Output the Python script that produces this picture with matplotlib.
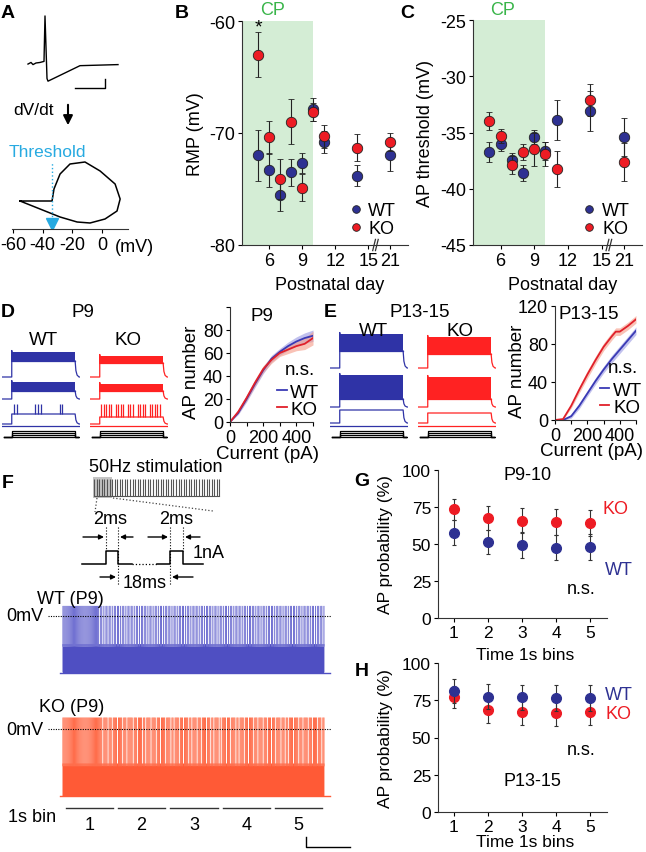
import numpy as np
import matplotlib.pyplot as plt
from matplotlib.lines import Line2D
from matplotlib.transforms import blended_transform_factory

plt.rcParams['font.family'] = ['Liberation Sans', 'DejaVu Sans']
plt.rcParams['font.size'] = 12
plt.rcParams['axes.unicode_minus'] = False
plt.rcParams['axes.linewidth'] = 0.8
plt.rcParams['axes.edgecolor'] = '#333333'
plt.rcParams['xtick.major.width'] = 0.8
plt.rcParams['ytick.major.width'] = 0.8
plt.rcParams['xtick.major.size'] = 3
plt.rcParams['ytick.major.size'] = 3
plt.rcParams['xtick.major.pad'] = 2
plt.rcParams['ytick.major.pad'] = 2

WT_C = '#2e3192'
KO_C = '#ed1c24'
CYAN = '#27aae1'
GREEN = '#39b54a'

# ---------------- data ----------------
# A: example action potential and phase plot
ap_t = [0, 3, 5, 8, 12, 16, 17, 19, 20, 52, 90]
ap_v = [-55, -52, -56, -53, -52, -50, 35, -82, -87, -58, -56]
phase_v = [-55.3, -33.7, -32.4, -28.3, -21.6, -11.5, -1.3, 8.8, 12.2, 10.1,
           2.0, -8.1, -16.8, -28.3, -41.8, -55.3]
phase_dvdt = [0, 0, 60, 135, 185, 195, 150, 85, 10, -50, -90, -110, -105, -80, -40, 0]
threshold_mv = -33.7

# B, C: postnatal development
days = [5, 6, 7, 8, 9, 10, 11, 14, 21]
day_ticks = [6, 9, 12, 15, 21]
rmp_wt = [-72.0, -73.3, -75.5, -73.5, -72.7, -67.9, -70.8, -73.8, -72.0]
rmp_wt_err = [2.3, 1.5, 1.5, 1.2, 0.9, 1.0, 1.0, 0.9, 1.4]
rmp_ko = [-63.0, -70.4, -74.1, -69.0, -74.9, -68.1, -70.3, -71.3, -70.8]
rmp_ko_err = [2.0, 1.5, 1.8, 2.0, 1.2, 0.8, 1.0, 1.2, 0.8]
thr_wt = [-36.7, -36.0, -37.4, -38.6, -35.4, -36.6, -33.9, -33.1, -35.4]
thr_wt_err = [0.9, 0.6, 0.6, 0.7, 0.6, 0.8, 1.8, 1.8, 1.7]
thr_ko = [-34.0, -35.3, -37.9, -36.7, -36.5, -36.9, -38.2, -32.1, -37.6]
thr_ko_err = [0.8, 0.6, 0.8, 0.7, 1.5, 1.1, 1.6, 1.4, 1.7]

# D, E: example sweeps (stacked trace units) and F-I curves
d_wt_rest, d_wt_plat, d_wt_peak = [128, 84, 34], [160, 100, 54], [178, 118, 74]
d_ko_rest, d_ko_plat, d_ko_peak = [128, 84, 34], [156, 100, 48], [170, 114, 74]
e_wt_rest, e_wt_plat, e_wt_peak = [146, 68, 36], [180, 84, 62], [214, 132, 62]
e_ko_rest, e_ko_plat, e_ko_peak = [146, 68, 36], [174, 84, 56], [208, 128, 56]
d_wt_spikes = [120, 150, 340, 370, 400, 590, 620]
d_ko_spikes = [115, 140, 165, 190, 215, 265, 290, 315, 340, 390, 415, 440,
               490, 515, 540, 565, 615, 640, 665, 690, 720]
stim_rest, stim_steps = 8, [12, 16, 20]

cur_d = [0, 50, 100, 150, 200, 250, 300, 350, 400, 450, 500]
p9_wt = [0, 8, 20, 33, 45, 55, 61, 66, 70, 73, 75]
p9_wt_sem = [0, 1.5, 2.5, 3, 3, 3, 3, 3.5, 4, 4.5, 5]
p9_ko = [0, 9, 21, 34, 46, 54, 60, 63, 66, 68, 73]
p9_ko_sem = [0, 1.5, 2.5, 3, 3, 3, 3, 3.5, 4, 5, 6]
cur_e = [0, 50, 100, 150, 200, 250, 300, 350, 375, 400, 450, 500]
p13_wt = [0, 0, 4, 15, 28, 41, 53, 64, 69, 74, 84, 94]
p13_wt_sem = [0, 0.5, 2, 3, 3, 3.5, 3.5, 4, 4, 4, 4, 4]
p13_ko = [0, 1, 15, 32, 48, 63, 77, 88, 93, 93, 99, 106]
p13_ko_sem = [0, 0.5, 2.5, 3.5, 4, 4, 4, 4, 4, 4, 4, 4]

# F: 50 Hz train, 1 = pulse evoked a full spike
stim_rate = 50
wt_ap = ("11111111111111111111111111111111111011010110110101"
         "10110101101011011010110101101101011010110101101011"
         "01101011010110110101101011011010110101101101011010"
         "11010110101101011011010110101101101011010110101101"
         "10101101101011010110110101101011011010110101101101")
ko_ap = ("11111111111111111111111111111111111111011110111011"
         "11011110111011111011101111011011110111101110111101"
         "11101101111011101111011011110111011110111011011110"
         "10111101110111101101111011101111011101111011101110"
         "11101111011101101111011110111011110111011110111011")

# G, H: AP probability per 1 s bin
bins = [1, 2, 3, 4, 5]
g_wt = [57.5, 51.5, 49.3, 47.6, 48.0]
g_wt_err = [8.5, 8.0, 9.0, 8.5, 8.5]
g_ko = [73.5, 67.5, 65.6, 64.8, 64.2]
g_ko_err = [7.0, 8.0, 8.5, 9.0, 9.0]
h_wt = [81.0, 77.5, 77.0, 76.5, 76.5]
h_wt_err = [8.0, 8.5, 8.5, 8.5, 8.5]
h_ko = [77.0, 68.5, 67.0, 66.5, 67.0]
h_ko_err = [7.5, 8.5, 8.5, 8.5, 8.5]

# ---------------- figure ----------------
W, H = 646, 853
fig = plt.figure(figsize=(W / 100, H / 100), dpi=100)


def px_axes(x0, y0, x1, y1):
    return fig.add_axes([x0 / W, 1 - y1 / H, (x1 - x0) / W, (y1 - y0) / H])


def despine(ax):
    ax.spines['top'].set_visible(False)
    ax.spines['right'].set_visible(False)


ov = fig.add_axes([0, 0, 1, 1], zorder=10)
ov.set_xlim(0, W)
ov.set_ylim(H, 0)
ov.axis('off')

# panel letters
for lab, x, y in [('A', 8, 13), ('B', 182, 13), ('C', 407, 13), ('D', 8, 312),
                  ('E', 330, 312), ('F', 8, 483), ('G', 362, 482), ('H', 362, 672)]:
    ov.text(x, y, lab, fontsize=14, fontweight='bold', ha='center', va='center')

# ---- A
axa = px_axes(20, 10, 130, 95)
axa.plot(ap_t, ap_v, color='k', lw=1)
axa.plot([47, 77, 77], [-100, -100, -83], color='k', lw=1)
axa.set_xlim(-8, 102)
axa.set_ylim(-111, 48)
axa.axis('off')
ov.text(33, 110, 'dV/dt', fontsize=12.5, ha='center', va='center')
ov.annotate('', xy=(68, 129), xytext=(68, 103),
            arrowprops=dict(arrowstyle='-|>', color='k', lw=1.5, mutation_scale=14))
ov.text(47, 152, 'Threshold', color=CYAN, fontsize=12.5, ha='center', va='center')

axp = px_axes(12, 150, 128, 230)
axp.plot(phase_v, phase_dvdt, color='k', lw=1.1)
axp.plot([threshold_mv, threshold_mv], [-115, 195], ls=':', color=CYAN, lw=1)
axp.plot([threshold_mv], [-113], marker='v', ms=8, color=CYAN)
axp.set_xlim(-60.7, 17.5)
axp.set_ylim(-140, 260)
for s in ['top', 'right', 'left']:
    axp.spines[s].set_visible(False)
axp.set_yticks([])
axp.set_xticks([-60, -40, -20, 0])
axp.tick_params(axis='x', labelsize=13)
ov.text(134, 247, '(mV)', fontsize=13, ha='center', va='center')


# ---- B, C
def day_pos(d):
    # days after 15 sit just past the axis break
    return d if d <= 15 else d - 4


def dev_panel(box, wt, wt_err, ko, ko_err, ylim, yticks, ylabel):
    ax = px_axes(*box)
    pos = [day_pos(d) for d in days]
    ax.axvspan(3.55, 10, color='#d4edd5', lw=0, zorder=0)
    kw = dict(fmt='o', ms=7.5, mec='#222222', mew=0.6, ecolor='#222222',
              elinewidth=0.8, capsize=2, capthick=0.8)
    ax.errorbar(pos, wt, yerr=wt_err, mfc=WT_C, zorder=3, **kw)
    ax.errorbar(pos, ko, yerr=ko_err, mfc=KO_C, zorder=4, **kw)
    ax.set_xlim(3.55, 18.6)
    ax.set_ylim(*ylim)
    ax.set_yticks(yticks)
    ax.set_xticks([day_pos(d) for d in day_ticks])
    ax.set_xticklabels([str(d) for d in day_ticks])
    ax.tick_params(labelsize=13)
    despine(ax)
    tr = blended_transform_factory(ax.transData, ax.transAxes)
    for x0 in [15.4, 15.65]:
        ax.plot([x0, x0 + 0.25], [-0.025, 0.025], color='#333333', lw=0.9,
                transform=tr, clip_on=False)
    ax.set_ylabel(ylabel, fontsize=13, va='center')
    ax.yaxis.set_label_coords(-0.28, 0.5)
    ax.set_xlabel('Postnatal day', fontsize=13, va='center')
    ax.xaxis.set_label_coords(0.53, -0.175)
    handles = [Line2D([], [], ls='', marker='o', ms=5.5, mfc=c, mec='#222222',
                      mew=0.6, label=l) for c, l in [(WT_C, 'WT'), (KO_C, 'KO')]]
    ax.legend(handles=handles, loc='lower right', bbox_to_anchor=(0.95, 0.02),
              frameon=False, fontsize=13, handlelength=0.8, handletextpad=0.3,
              labelspacing=0.05, borderaxespad=0, borderpad=0.2)
    return ax


axb = dev_panel((242, 22, 408, 246), rmp_wt, rmp_wt_err, rmp_ko, rmp_ko_err,
                (-80, -60), [-80, -70, -60], 'RMP (mV)')
axb.text(5, -60.5, '*', fontsize=14, ha='center', va='center')
axc = dev_panel((473, 21, 642, 246), thr_wt, thr_wt_err, thr_ko, thr_ko_err,
                (-45, -25), [-45, -40, -35, -30, -25], 'AP threshold (mV)')
ov.text(273, 10, 'CP', color=GREEN, fontsize=13, ha='center', va='center')
ov.text(503, 10, 'CP', color=GREEN, fontsize=13, ha='center', va='center')


# ---- D, E example sweeps
def sweep_block(box, rests, plats, peaks, color, spikes=None, hyp=None):
    ax = px_axes(*box)
    on, off, end = 100, 750, 800
    decay = [1, 0.4, 0.12, 0]
    for i, (r, p, k) in enumerate(zip(rests, plats, peaks)):
        tail_t = [off, off + 8, off + 20, off + 40, end]
        tail_v = [r + (p - r) * f for f in decay] + [r]
        if i < 2:
            ax.fill_between([on, off], p, k, color=color, lw=0)
            ax.plot([0, on, on, on + 6], [r, r, k + 3, p], color=color, lw=0.9)
            ax.plot([on, off], [p, p], color=color, lw=0.9)
            ax.plot(tail_t, tail_v, color=color, lw=0.9)
        else:
            ax.plot([0, on, on, off] + tail_t[1:], [r, r, p, p] + tail_v[1:],
                    color=color, lw=0.9)
            if spikes and k > p:
                ax.vlines(spikes, p, k, color=color, lw=0.9)
    if hyp is not None:
        ax.plot([0, end], [hyp, hyp], color=color, lw=0.9)
    ax.plot([20, end], [stim_rest, stim_rest], color='k', lw=0.9)
    for s in stim_steps:
        ax.plot([20, on, on, off, off, end - 20], [stim_rest, stim_rest, s, s,
                                                   stim_rest, stim_rest], color='k', lw=0.9)
    ax.set_xlim(0, 800)
    ax.set_ylim(0, 244)
    ax.axis('off')


WT_TR = '#2f33a6'
KO_TR = '#ff2222'
sweep_block((2, 320, 80, 442), d_wt_rest, d_wt_plat, d_wt_peak, WT_TR, d_wt_spikes, 30)
sweep_block((90, 320, 168, 442), d_ko_rest, d_ko_plat, d_ko_peak, KO_TR, d_ko_spikes, 30)
sweep_block((330, 320, 408, 442), e_wt_rest, e_wt_plat, e_wt_peak, WT_TR, None, 31)
sweep_block((418, 320, 496, 442), e_ko_rest, e_ko_plat, e_ko_peak, KO_TR, None, 31)
for txt, x, y in [('P9', 83, 312), ('WT', 43, 340), ('KO', 128, 340),
                  ('P13-15', 420, 312), ('WT', 373, 331), ('KO', 460, 331)]:
    ov.text(x, y, txt, fontsize=13.5, ha='center', va='center')


def fi_panel(box, cur, wt, wt_sem, ko, ko_sem, ylim, yticks, yticklabels, title, tx):
    ax = px_axes(*box)
    wt, wt_sem, ko, ko_sem = map(np.asarray, (wt, wt_sem, ko, ko_sem))
    ax.fill_between(cur, wt - wt_sem, wt + wt_sem, color='#8f8fe0', alpha=0.55, lw=0)
    ax.fill_between(cur, ko - ko_sem, ko + ko_sem, color='#f59a86', alpha=0.6, lw=0)
    ax.plot(cur, wt, color='#3a3ab5', lw=1.3, label='WT')
    ax.plot(cur, ko, color='#e0202a', lw=1.3, label='KO')
    ax.set_xlim(0, 500)
    ax.set_ylim(*ylim)
    ax.set_yticks(yticks)
    ax.set_yticklabels(yticklabels)
    ax.set_xticks([0, 100, 200, 300, 400, 500])
    ax.set_xticklabels(['0', '', '200', '', '400', ''])
    ax.tick_params(labelsize=13)
    despine(ax)
    ax.set_ylabel('AP number', fontsize=13.5, va='center')
    ax.yaxis.set_label_coords(-0.46, 0.44)
    ax.set_xlabel('Current (pA)', fontsize=13.5, va='center')
    ax.xaxis.set_label_coords(0.45, -0.27)
    ax.text(tx, 0.93, title, transform=ax.transAxes, fontsize=13.5, ha='center', va='center')
    ax.text(0.84, 0.46, 'n.s.', transform=ax.transAxes, fontsize=13.5, ha='center', va='center')
    ax.legend(loc='lower right', bbox_to_anchor=(1.1, 0.02), frameon=False, fontsize=13.5,
              handlelength=0.5, handletextpad=0.2, labelspacing=0.0, borderaxespad=0,
              borderpad=0.1)
    return ax


fi_panel((230, 308, 313, 423), cur_d, p9_wt, p9_wt_sem, p9_ko, p9_ko_sem,
         (0, 100), [0, 20, 40, 60, 80, 100], ['0', '20', '40', '60', '80', ''], 'P9', 0.39)
fi_panel((555, 307, 636, 421), cur_e, p13_wt, p13_wt_sem, p13_ko, p13_ko_sem,
         (0, 120), [0, 40, 80, 120], ['0', '40', '80', '120'], 'P13-15', 0.42)

# ---- F: 50 Hz stimulation schematic
ov.text(156, 467, '50Hz stimulation', fontsize=13, ha='center', va='center')
axs = px_axes(93, 478, 222, 499)
pulses_1s = np.arange(stim_rate) / stim_rate
axs.axvspan(-0.01, 0.14, color='#c4c4c4', lw=0, zorder=0)
axs.vlines(pulses_1s, 0, 1, color='#555555', lw=0.8)
axs.plot([0, pulses_1s[-1]], [0, 0], color='#555555', lw=0.8)
axs.set_xlim(-0.01, 1.0)
axs.set_ylim(-0.15, 1.15)
axs.axis('off')
ov.plot([113, 213], [499, 512], ls=':', color='#444444', lw=0.9)
ov.plot([97, 95], [499, 513], ls=':', color='#444444', lw=0.9)

# pulse diagram (schematic, not to scale)
pulse_x = [82, 106, 106, 118, 118, 132]
pulse2_x = [157, 170, 170, 183, 183, 203]
pulse_y = [565, 565, 552, 552, 565, 565]
ov.plot(pulse_x, pulse_y, color='k', lw=1.1)
ov.plot(pulse2_x, pulse_y, color='k', lw=1.1)
ov.plot([132, 157], [565, 565], ls=':', color='k', lw=0.9)
for x, y0, y1 in [(106, 528, 552), (118, 528, 586), (170, 528, 586), (183, 528, 552)]:
    ov.plot([x, x], [y0, y1], ls=':', color='k', lw=0.8)
arrows = [((83, 538), (104, 538)), ((133, 538), (120, 538)),
          ((148, 538), (168, 538)), ((200, 538), (185, 538)),
          ((100, 578), (116, 578)), ((193, 578), (172, 578))]
for start, stop in arrows:
    ov.annotate('', xy=stop, xytext=start,
                arrowprops=dict(arrowstyle='-|>', color='k', lw=1, mutation_scale=7,
                                shrinkA=0, shrinkB=0))
ov.text(110, 520, '2ms', fontsize=13, ha='center', va='center')
ov.text(176, 520, '2ms', fontsize=13, ha='center', va='center')
ov.text(193, 554, '1nA', fontsize=13, ha='left', va='center')
ov.text(145, 583, '18ms', fontsize=13, ha='center', va='center')

# ---- F: example traces
t_pulse = np.arange(len(wt_ap)) / stim_rate
t_left, t_right = -0.286, 5.134


def train_axes(box, pattern, color, light, ylim, fail_level, peak):
    ax = px_axes(*box)
    hit = np.array([c == '1' for c in pattern])
    ax.plot([-0.05, 5.1], [-70, -70], color=color, lw=1)
    ax.fill_between([t_pulse[0], t_pulse[-1] + 0.01], -70, fail_level, color=color, lw=0)
    ax.vlines(t_pulse, -70, fail_level + 3, color=color, lw=0.7, snap=False)
    ax.vlines(t_pulse[hit], fail_level, peak, color=light, lw=0.75, snap=False)
    ax.axhline(0, ls=(0, (1, 1.2)), color='k', lw=0.8, zorder=5)
    ax.text(-0.38, 0, '0mV', fontsize=13, ha='right', va='center')
    ax.set_xlim(t_left, t_right)
    ax.set_ylim(*ylim)
    ax.axis('off')
    return ax


train_axes((48, 600, 332, 680), wt_ap, '#4f4fc2', '#7272d2', (-78, 20.5), -38, 12)
train_axes((48, 712, 332, 800), ko_ap, '#ff5a36', '#ff6e4c', (-73.1, 18.8), -39, 12)
ov.text(70, 600, 'WT (P9)', fontsize=13, ha='center', va='center')
ov.text(72, 707, 'KO (P9)', fontsize=13, ha='center', va='center')

axbin = px_axes(48, 803, 332, 832)
for i, b in enumerate(bins):
    axbin.plot([i + 0.05, i + 0.95], [0.79, 0.79], color='#333333', lw=1)
    axbin.text(i + 0.5, 0.24, str(b), fontsize=13, ha='center', va='center')
axbin.set_xlim(t_left, t_right)
axbin.set_ylim(0, 1)
axbin.axis('off')
ov.text(32, 818, '1s bin', fontsize=13, ha='center', va='center')
ov.plot([306, 306, 350], [838, 848, 848], color='k', lw=1)


# ---- G, H
def prob_panel(box, wt, wt_err, ko, ko_err, wt_top, notes):
    ax = px_axes(*box)
    kw = dict(fmt='o', ms=7, ecolor='#333333', elinewidth=0.8, capsize=1.5, capthick=0.8)
    ax.errorbar(bins, ko, yerr=ko_err, color=KO_C, mec=KO_C, zorder=3 if wt_top else 4, **kw)
    ax.errorbar(bins, wt, yerr=wt_err, color=WT_C, mec=WT_C, zorder=4 if wt_top else 3, **kw)
    ax.set_xlim(0.53, 5.5)
    ax.set_ylim(0, 100)
    ax.set_yticks([0, 25, 50, 75, 100])
    ax.set_xticks(bins)
    ax.tick_params(labelsize=12.5)
    despine(ax)
    ax.set_ylabel('AP probability (%)', fontsize=12.5, va='center')
    ax.yaxis.set_label_coords(-0.31, 0.5)
    ax.set_xlabel('Time 1s bins', fontsize=12.5, va='center')
    for txt, x, y, c in notes:
        ax.text(x, y, txt, transform=ax.transAxes, fontsize=13, color=c,
                ha='center', va='center')
    return ax


axg = prob_panel((438, 471, 607, 619), g_wt, g_wt_err, g_ko, g_ko_err, False,
                 [('P9-10', 0.53, 0.97, 'k'), ('KO', 1.05, 0.74, KO_C),
                  ('WT', 1.07, 0.33, WT_C), ('n.s.', 0.85, 0.2, 'k')])
axg.xaxis.set_label_coords(0.515, -0.245)
axh = prob_panel((438, 664, 607, 813), h_wt, h_wt_err, h_ko, h_ko_err, True,
                 [('P13-15', 0.56, 0.21, 'k'), ('WT', 1.07, 0.79, WT_C),
                  ('KO', 1.07, 0.66, KO_C), ('n.s.', 0.85, 0.42, 'k')])
axh.xaxis.set_label_coords(0.515, -0.2)

fig.savefig('out.png', dpi=100)
